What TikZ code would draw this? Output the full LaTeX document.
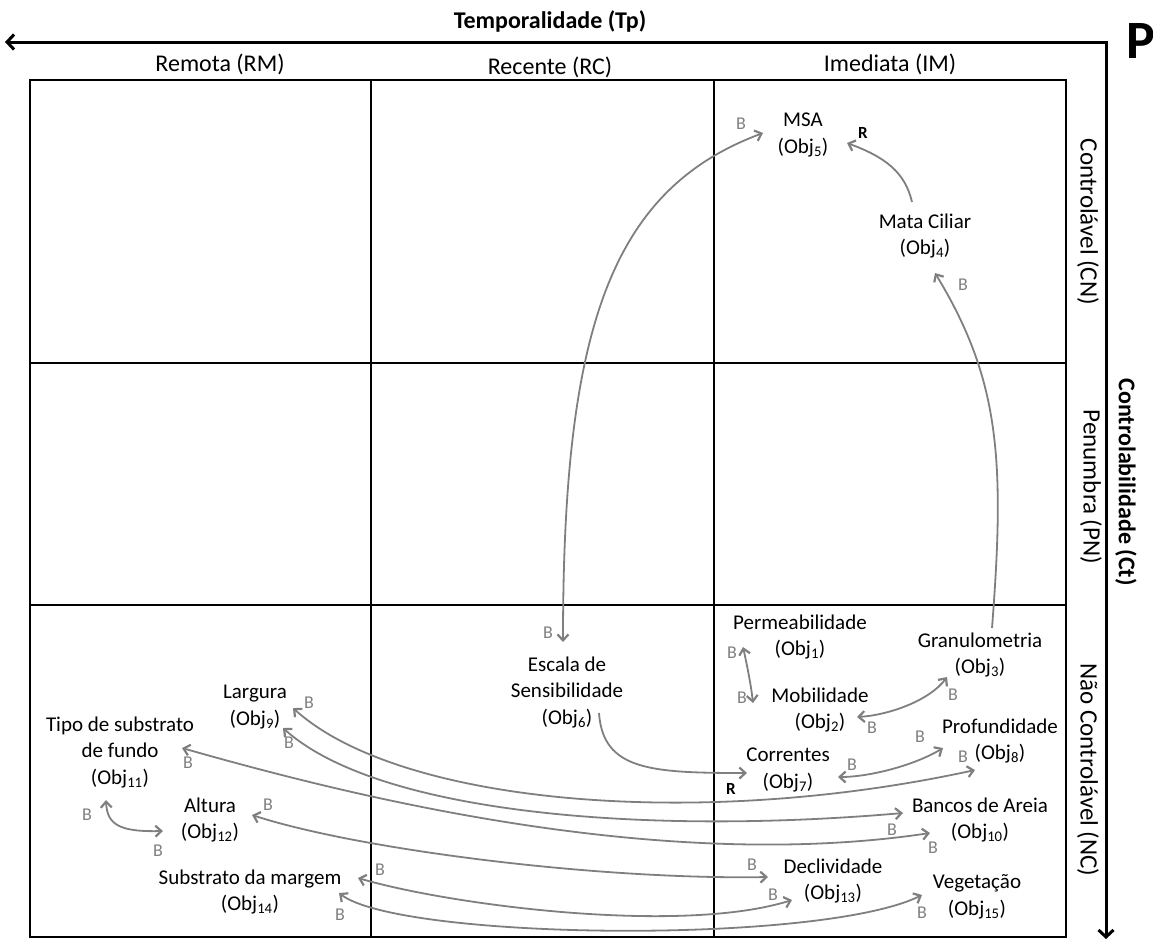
\documentclass[tikz,border=0pt]{standalone}
\usepackage{fontspec}
\setmainfont{Carlito}
\usetikzlibrary{arrows.meta}
\definecolor{linkgray}{HTML}{7F7F7F}
\definecolor{labgray}{HTML}{7F7F7F}

\begin{document}
\begin{tikzpicture}[x=1pt,y=-1pt,
  obj/.style={align=center, font=\fontsize{21}{26.5}\selectfont, inner sep=0pt},
  colhead/.style={font=\fontsize{24}{28}\selectfont, inner sep=0pt},
  rowhead/.style={font=\fontsize{25}{29}\selectfont, inner sep=0pt, rotate=-90},
  axislabel/.style={font=\fontsize{24}{28}\selectfont\bfseries, inner sep=0pt},
  polB/.style={font=\fontsize{18}{21}\selectfont, text=labgray, inner sep=0pt},
  relR/.style={font=\fontsize{17}{20}\selectfont\bfseries, inner sep=0pt},
  barb/.tip={Straight Barb[length=6pt,width=11pt,line width=2.2pt]},
  link/.style={draw=linkgray, line width=1.8pt, -barb},
  both/.style={link, barb-barb},
  cellline/.style={line width=2pt},
  axisline/.style={line width=3pt, {Straight Barb[length=7pt,width=15pt]}-{Straight Barb[length=7pt,width=15pt]}}
]
\useasboundingbox (0,0) rectangle (1153,943);

% axes
\coordinate (tpend) at (5,42);
\coordinate (corner) at (1106,42);
\coordinate (ctend) at (1106,939);
\draw[axisline] (tpend) -- (corner) -- (ctend);
\node[axislabel] (tp) at (550,21) {Temporalidade (Tp)};
\node[axislabel, rotate=-90] (ct) at (1126,482) {Controlabilidade (Ct)};
\node[font=\fontsize{54}{60}\selectfont\bfseries, anchor=west, inner sep=0pt] (pp) at (1126,41) {P};

% grid of cells
\draw[cellline] (30,80) rectangle (1066,937);
\draw[cellline] (371,80) -- (371,937);
\draw[cellline] (714,80) -- (714,937);
\draw[cellline] (30,363) -- (1066,363);
\draw[cellline] (30,605) -- (1066,605);

% column and row headings
\node[colhead] (rm) at (220,64) {Remota (RM)};
\node[colhead] (rc) at (550,67) {Recente (RC)};
\node[colhead] (im) at (890,64) {Imediata (IM)};
\node[rowhead] (cn) at (1088,222) {Controlável (CN)};
\node[rowhead] (pn) at (1091,487) {Penumbra (PN)};
\node[rowhead] (nc) at (1088,770) {Não Controlável (NC)};

% objectives
\node[obj] (msa)  at (803,135) {MSA\\(Obj\textsubscript{5})};
\node[obj] (mata) at (925,236) {Mata Ciliar\\(Obj\textsubscript{4})};
\node[obj] (perm) at (800,637) {Permeabilidade\\(Obj\textsubscript{1})};
\node[obj] (mob)  at (820,710) {Mobilidade\\(Obj\textsubscript{2})};
\node[obj] (gran) at (980,655) {Granulometria\\(Obj\textsubscript{3})};
\node[obj] (prof) at (1000,741) {Profundidade\\(Obj\textsubscript{8})};
\node[obj] (corr) at (788,770) {Correntes\\(Obj\textsubscript{7})};
\node[obj] (esc)  at (567,692) {Escala de\\Sensibilidade\\(Obj\textsubscript{6})};
\node[obj] (larg) at (255,707) {Largura\\(Obj\textsubscript{9})};
\node[obj] (tipo) at (120,752) {Tipo de substrato\\de fundo\\(Obj\textsubscript{11})};
\node[obj] (alt)  at (210,820) {Altura\\(Obj\textsubscript{12})};
\node[obj] (subm) at (250,892) {Substrato da margem\\(Obj\textsubscript{14})};
\node[obj] (banc) at (980,820) {Bancos de Areia\\(Obj\textsubscript{10})};
\node[obj] (decl) at (833,881) {Declividade\\(Obj\textsubscript{13})};
\node[obj] (veg)  at (977,897) {Vegetação\\(Obj\textsubscript{15})};

% influence connectors
\draw[both] ([shift={(-4,-50)}]esc.center) .. controls (563,330) and (610,190) .. ([shift={(-40,-2)}]msa.center);
\draw[link] ([shift={(-13,-34)}]mata.center) .. controls (905,172) and (885,157) .. ([shift={(44,8)}]msa.center);
\draw[link] ([shift={(12,-27)}]gran.center) .. controls (1005,460) and (1000,380) .. ([shift={(10,37)}]mata.center);
\draw[both] ([shift={(-57,10)}]perm.center) .. controls (747,665) and (751,685) .. ([shift={(-67,-7)}]mob.center);
\draw[both] ([shift={(37,7)}]mob.center) .. controls (890,715) and (930,700) .. ([shift={(-33,22)}]gran.center);
\draw[both] ([shift={(50,7)}]corr.center) .. controls (870,777) and (915,765) .. ([shift={(-57,7)}]prof.center);
\draw[link] ([shift={(32,21)}]esc.center) .. controls (603,770) and (650,773) .. ([shift={(-41,3)}]corr.center);
\draw[both] ([shift={(38,1)}]larg.center) .. controls (400,805) and (700,830) .. ([shift={(-25,29)}]prof.center);
\draw[both] ([shift={(28,21)}]larg.center) .. controls (380,815) and (650,835) .. ([shift={(-77,-7)}]banc.center);
\draw[both] ([shift={(62,-4)}]tipo.center) .. controls (330,790) and (650,875) .. ([shift={(-50,13)}]banc.center);
\draw[both] ([shift={(42,-5)}]alt.center) .. controls (360,850) and (600,880) .. ([shift={(-65,-4)}]decl.center);
\draw[both] ([shift={(108,-14)}]subm.center) .. controls (450,905) and (680,935) .. ([shift={(-41,19)}]decl.center);
\draw[both] ([shift={(89,1)}]subm.center) .. controls (400,940) and (820,945) .. ([shift={(-55,-2)}]veg.center);
\draw[both] ([shift={(-14,48)}]tipo.center) .. controls (107,825) and (120,832) .. ([shift={(-47,11)}]alt.center);

% polarity marks
\node[polB] (bEsc)   at (548,633) {B};
\node[polB] (bMsa)   at (741,124) {B};
\node[relR] (rMata)  at (863,133) {R};
\node[polB] (bMata)  at (963,285) {B};
\node[polB] (bPerm)  at (732,653) {B};
\node[polB] (bMob1)  at (742,698) {B};
\node[polB] (bMob2)  at (872,728) {B};
\node[polB] (bGran)  at (953,695) {B};
\node[polB] (bCorr)  at (852,765) {B};
\node[polB] (bProf1) at (920,737) {B};
\node[relR] (rCorr)  at (731,789) {R};
\node[polB] (bLarg1) at (309,703) {B};
\node[polB] (bProf2) at (963,757) {B};
\node[polB] (bLarg2) at (289,743) {B};
\node[polB] (bBanc1) at (892,830) {B};
\node[polB] (bTipo1) at (188,763) {B};
\node[polB] (bBanc2) at (933,848) {B};
\node[polB] (bAlt1)  at (268,805) {B};
\node[polB] (bDecl1) at (752,865) {B};
\node[polB] (bSubm1) at (380,870) {B};
\node[polB] (bDecl2) at (773,895) {B};
\node[polB] (bSubm2) at (340,915) {B};
\node[polB] (bVeg)   at (922,913) {B};
\node[polB] (bTipo2) at (87,815) {B};
\node[polB] (bAlt2)  at (158,851) {B};
\end{tikzpicture}
\end{document}
